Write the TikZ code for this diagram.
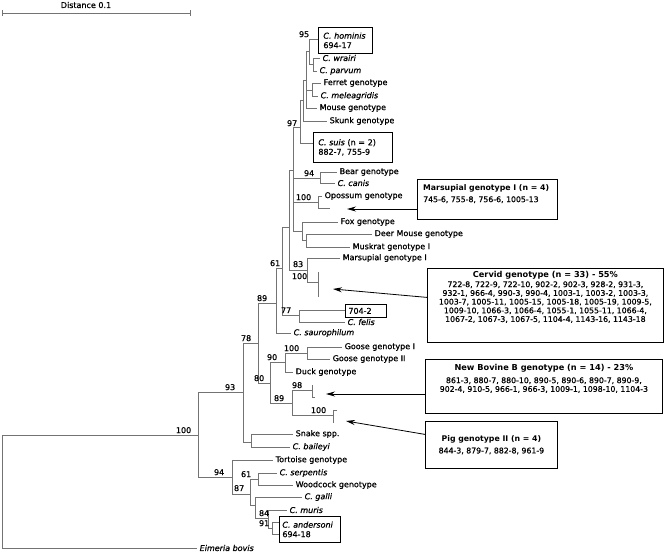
\documentclass[tikz,border=0pt]{standalone}
\usepackage{fontspec}
\setmainfont{DejaVu Sans}[UprightFeatures={FakeBold=0.8}, ItalicFeatures={FakeBold=0.8}]
\usetikzlibrary{arrows.meta}
\newcommand\tlf{\fontsize{8}{9.5}\selectfont}
\newcommand\nmf{\fontsize{7.8}{8.7}\selectfont}
\newcommand\ttlf{\fontsize{7.8}{9.5}\selectfont\bfseries}
\begin{document}
\begin{tikzpicture}[x=1pt,y=-1pt,
  tr/.style={draw=black!55, line width=0.7pt},
  leaf/.style={anchor=west, inner xsep=2.5pt, inner ysep=0.5pt, font=\tlf},
  bs/.style={anchor=south east, inner sep=0.6pt, font=\tlf},
  bx/.style={draw, line width=0.8pt},
  arr/.style={-{Stealth[length=9pt,width=5pt]}, line width=0.8pt}]
\useasboundingbox (0,0) rectangle (664,552);

% ---------- scale bar ----------
\coordinate (sbL) at (2.7,13);
\coordinate (sbR) at (190,13);
\draw[tr] (sbL) -- (sbR);
\draw[tr] ([yshift=3pt]sbL) -- ([yshift=-3pt]sbL);
\draw[tr] ([yshift=3pt]sbR) -- ([yshift=-3pt]sbR);
\node[font=\tlf, inner sep=0] (sbT) at (86,5) {Distance 0.1};

% ---------- internal nodes ----------
\coordinate (root) at (2,490);
\coordinate (n100) at (198,435);
\coordinate (n93) at (243,392);
\coordinate (n94) at (232,477);
\coordinate (n78) at (258,343);
\coordinate (nSn) at (251,442);
\coordinate (n89) at (276,303);
\coordinate (n80) at (270,383);
\coordinate (n61) at (282,268);
\coordinate (nA) at (289,227);
\coordinate (n77) at (299,315);
\coordinate (nB) at (293,170);
\coordinate (n83) at (307,270);
\coordinate (n97) at (300,127);
\coordinate (n94b) at (320,178);
\coordinate (nOpo) at (318,202);
\coordinate (nFox) at (302,231);
\coordinate (nC) at (303,100);
\coordinate (nD) at (306,80);
\coordinate (n95) at (309,51);
\coordinate (nWP) at (313,64);
\coordinate (nFM) at (312,90);
\coordinate (nDM) at (306,240);
\coordinate (nCerv) at (318,282);
\coordinate (cervT) at (318,272);
\coordinate (cervB) at (318,297);
\coordinate (n90) at (285,362);
\coordinate (n89b) at (292,403);
\coordinate (nGoose) at (307,353);
\coordinate (n98) at (312,390);
\coordinate (c98a) at (312,385);
\coordinate (c98b) at (312,397);
\coordinate (c98c) at (315,397);
\coordinate (nPig) at (333,415);
\coordinate (cPa) at (337,410);
\coordinate (cPb) at (333,410);
\coordinate (cPc) at (333,423);
\coordinate (n87) at (250,494);
\coordinate (n61b) at (258,479);
\coordinate (nG) at (255,505);
\coordinate (n84) at (268,518);
\coordinate (n91) at (272,528);

% ---------- leaves ----------
\coordinate (lEim) at (197,548);
\coordinate (lSnake) at (293,434);
\coordinate (lBai) at (290,447);
\coordinate (lSaur) at (291,333);
\coordinate (l704) at (345,310);
\coordinate (lFel) at (345,322);
\coordinate (lSuis) at (313,143);
\coordinate (lSkunk) at (327,121);
\coordinate (lMouse) at (317,108);
\coordinate (lHom) at (318,39);
\coordinate (lWra) at (320,58);
\coordinate (lPar) at (317,71);
\coordinate (lFer) at (321,83);
\coordinate (lMel) at (318,96);
\coordinate (lBear) at (337,172);
\coordinate (lCan) at (335,183);
\coordinate (lOpo) at (322,196);
\coordinate (lOpo2) at (330,208);
\coordinate (lFox) at (338,222);
\coordinate (lDM) at (372,234);
\coordinate (lMusk) at (350,247);
\coordinate (lMar) at (340,258);
\coordinate (lG1) at (342,347);
\coordinate (lG2) at (330,359);
\coordinate (lDuck) at (293,372);
\coordinate (lTort) at (273,460);
\coordinate (lSerp) at (277,473);
\coordinate (lWood) at (293,485);
\coordinate (lGalli) at (302,497);
\coordinate (lMuris) at (287,510);
\coordinate (lAnd1) at (279,522);
\coordinate (lAnd2) at (279,534);

% ---------- branches ----------
\begin{scope}[tr]
\draw (root) |- (n100); \draw (root) |- (lEim);
\draw (n100) |- (n93); \draw (n100) |- (n94);
\draw (n93) |- (n78); \draw (n93) |- (nSn);
\draw (nSn) |- (lSnake); \draw (nSn) |- (lBai);
\draw (n78) |- (n89); \draw (n78) |- (n80);
\draw (n89) |- (n61); \draw (n89) |- (lSaur);
\draw (n61) |- (nA); \draw (n61) |- (n77);
\draw (n77) |- (l704); \draw (n77) |- (lFel);
\draw (nA) |- (nB); \draw (nA) |- (n83);
\draw (nB) |- (n97); \draw (nB) |- (n94b); \draw (nB) |- (nOpo); \draw (nB) |- (nFox);
\draw (n97) |- (nC); \draw (n97) |- (lSuis);
\draw (nC) |- (nD); \draw (nC) |- (lSkunk);
\draw (nD) |- (n95); \draw (nD) |- (nFM); \draw (nD) |- (lMouse);
\draw (n95) |- (lHom); \draw (n95) |- (nWP);
\draw (nWP) |- (lWra); \draw (nWP) |- (lPar);
\draw (nFM) |- (lFer); \draw (nFM) |- (lMel);
\draw (n94b) |- (lBear); \draw (n94b) |- (lCan);
\draw (nOpo) |- (lOpo); \draw (nOpo) |- (lOpo2);
\draw (nFox) |- (lFox); \draw (nFox) |- (nDM);
\draw (nDM) |- (lDM); \draw (nDM) |- (lMusk);
\draw (n83) |- (lMar); \draw (n83) |- (nCerv);
\draw (cervT) -- (cervB);
\draw (n80) |- (n90); \draw (n80) |- (n89b);
\draw (n90) |- (nGoose); \draw (n90) |- (lDuck);
\draw (nGoose) |- (lG1); \draw (nGoose) |- (lG2);
\draw (n89b) |- (n98); \draw (n89b) |- (nPig);
\draw (c98a) -- (c98b) -- (c98c);
\draw (cPa) -- (cPb) -- (cPc);
\draw (n94) |- (lTort); \draw (n94) |- (n87);
\draw (n87) |- (n61b); \draw (n87) |- (nG);
\draw (n61b) |- (lSerp); \draw (n61b) |- (lWood);
\draw (nG) |- (lGalli); \draw (nG) |- (n84);
\draw (n84) |- (lMuris); \draw (n84) |- (n91);
\draw (n91) |- (lAnd1); \draw (n91) |- (lAnd2);
\end{scope}

% ---------- leaf labels ----------
\node[leaf] (tEim) at (lEim) {\itshape Eimeria bovis};
\node[leaf] (tSnake) at (lSnake) {Snake spp.};
\node[leaf] (tBai) at (lBai) {\itshape C. baileyi};
\node[leaf] (tSaur) at (lSaur) {\itshape C. saurophilum};
\node[leaf] (tFel) at (lFel) {\itshape C. felis};
\node[leaf] (tSkunk) at (lSkunk) {Skunk genotype};
\node[leaf] (tMouse) at (lMouse) {Mouse genotype};
\node[leaf] (tWra) at (lWra) {\itshape C. wrairi};
\node[leaf] (tPar) at (lPar) {\itshape C. parvum};
\node[leaf] (tFer) at (lFer) {Ferret genotype};
\node[leaf] (tMel) at (lMel) {\itshape C. meleagridis};
\node[leaf] (tBear) at (lBear) {Bear genotype};
\node[leaf] (tCan) at (lCan) {\itshape C. canis};
\node[leaf] (tOpo) at (lOpo) {Opossum genotype};
\node[leaf] (tFox) at (lFox) {Fox genotype};
\node[leaf] (tDM) at (lDM) {Deer Mouse genotype};
\node[leaf] (tMusk) at (lMusk) {Muskrat genotype I};
\node[leaf] (tMar) at (lMar) {Marsupial genotype I};
\node[leaf] (tG1) at (lG1) {Goose genotype I};
\node[leaf] (tG2) at (lG2) {Goose genotype II};
\node[leaf] (tDuck) at (lDuck) {Duck genotype};
\node[leaf] (tTort) at (lTort) {Tortoise genotype};
\node[leaf] (tSerp) at (lSerp) {\itshape C. serpentis};
\node[leaf] (tWood) at (lWood) {Woodcock genotype};
\node[leaf] (tGalli) at (lGalli) {\itshape C. galli};
\node[leaf] (tMuris) at (lMuris) {\itshape C. muris};

% ---------- boxed leaves ----------
\node[bx, anchor=north west, minimum width=54pt, minimum height=26pt, inner xsep=5pt,
      text width=44pt, align=left, font=\tlf] (bHom) at (318,27) {\textit{C. hominis}\\694-17};
\node[bx, anchor=north west, minimum width=79pt, minimum height=30pt, inner xsep=5pt,
      text width=69pt, align=left, font=\tlf] (bSuis) at (313,132) {\textit{C. suis} (n = 2)\\882-7, 755-9};
\node[bx, anchor=north west, minimum width=61pt, minimum height=26pt, inner xsep=3pt,
      text width=55pt, align=left, font=\tlf] (bAnd) at (279,516) {\textit{C. andersoni}\\694-18};
\node[bx, anchor=north west, minimum width=41pt, minimum height=13pt, inner xsep=3pt, inner ysep=1pt,
      text width=35pt, align=left, font=\tlf] (b704) at (345,304) {704-2};

% ---------- bootstrap values ----------
\node[bs] (v100r) at (192,434) {100};
\node[bs] (v93) at (236,391) {93};
\node[bs] (v94) at (225,476) {94};
\node[bs] (v61b) at (252,478) {61};
\node[bs] (v87) at (245,492) {87};
\node[bs] (v84) at (270,517) {84};
\node[bs] (v91) at (270,527) {91};
\node[bs] (v78) at (252,342) {78};
\node[bs] (v80) at (265,382) {80};
\node[bs] (v89) at (268,302) {89};
\node[bs] (v61) at (281,267) {61};
\node[bs] (v77) at (292,314) {77};
\node[bs] (v83) at (304,268) {83};
\node[bs] (v100c) at (308,280) {100};
\node[bs] (v100g) at (300,352) {100};
\node[bs] (v90) at (278,361) {90};
\node[bs] (v98) at (303,389) {98};
\node[bs] (v89b) at (285,402) {89};
\node[bs] (v100p) at (327,414) {100};
\node[bs] (v100o) at (312,201) {100};
\node[bs] (v94b) at (315,177) {94};
\node[bs] (v97) at (298,127) {97};
\node[bs] (v95) at (310,38) {95};

% ---------- annotation boxes ----------
\node[bx, anchor=north west, minimum width=140pt, minimum height=40pt] (mbox) at (417,179) {};
\node[anchor=north west, align=left, inner sep=0pt] (mtext) at ([xshift=6pt,yshift=-5pt]mbox.north west)
  {{\ttlf Marsupial genotype I (n = 4)}\\{\nmf 745-6, 755-8, 756-6, 1005-13}};

\node[bx, anchor=north west, minimum width=236pt, minimum height=74pt] (cbox) at (427,268) {};
\node[anchor=north, align=center, inner sep=0pt, font=\nmf] (ctext) at ([yshift=-3pt]cbox.north)
  {{\bfseries\fontsize{8.2}{10}\selectfont Cervid genotype (n = 33) - 55\%}\\[1pt]
   722-8, 722-9, 722-10, 902-2, 902-3, 928-2, 931-3,\\
   932-1, 966-4, 990-3, 990-4, 1003-1, 1003-2, 1003-3,\\
   1003-7, 1005-11, 1005-15, 1005-18, 1005-19, 1009-5,\\
   1009-10, 1066-3, 1066-4, 1055-1, 1055-11, 1066-4,\\
   1067-2, 1067-3, 1067-5, 1104-4, 1143-16, 1143-18};

\node[bx, anchor=north west, minimum width=237pt, minimum height=54pt] (nbox) at (425,359) {};
\node[anchor=north, align=center, inner sep=0pt, font=\nmf] (ntext) at ([yshift=-5pt]nbox.north)
  {{\bfseries\fontsize{8.2}{10}\selectfont New Bovine B genotype (n = 14) - 23\%}\\[4pt]
   861-3, 880-7, 880-10, 890-5, 890-6, 890-7, 890-9,\\
   902-4, 910-5, 966-1, 966-3, 1009-1, 1098-10, 1104-3};

\node[bx, anchor=north west, minimum width=132pt, minimum height=47pt, align=center] (pbox) at (425,421)
  {{\ttlf Pig genotype II (n = 4)}\\{\nmf 844-3, 879-7, 882-8, 961-9}};

% ---------- arrows ----------
\coordinate (mTip) at (347,209);
\coordinate (cTip) at (333,289);
\coordinate (nTip) at (326,394);
\coordinate (pTip) at (346,421);
\draw[arr] (mbox.west |- mTip) -- (mTip);
\draw[arr] ([yshift=8pt]cbox.west) -- (cTip);
\draw[arr] (nbox.west |- nTip) -- (nTip);
\draw[arr] ([yshift=10.5pt]pbox.west) -- (pTip);
\end{tikzpicture}
\end{document}
